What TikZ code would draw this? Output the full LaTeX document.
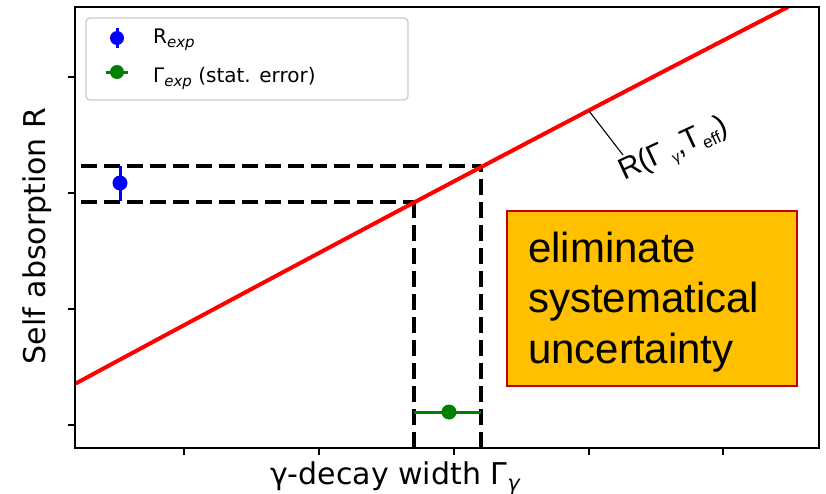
\documentclass[tikz,border=0pt]{standalone}
\usepackage{fontspec}
\setmainfont{DejaVu Sans}
\newfontfamily\arialf{Liberation Sans}
\definecolor{boxfill}{HTML}{FFC000}
\definecolor{boxline}{HTML}{C00000}
\definecolor{mplgreen}{HTML}{008000}
\definecolor{legline}{HTML}{CCCCCC}
\begin{document}
\begin{tikzpicture}[x=1pt,y=-1pt,
  frame/.style={line width=1.6pt},
  tickmark/.style={line width=1.3pt},
  curve/.style={red, line width=4pt},
  guide/.style={line width=3.8pt, dash pattern=on 16pt off 7pt},
  errbar/.style={line width=3pt},
  dotmark/.style={circle, inner sep=0pt, minimum size=15pt},
  bigtext/.style={anchor=base west, font=\arialf\fontsize{42}{50}\selectfont},
  axlabel/.style={font=\fontsize{30}{30}\selectfont},
  legtext/.style={anchor=base west, font=\fontsize{20}{20}\selectfont}]
\useasboundingbox (0,0) rectangle (826,493);
% frame
\coordinate (TL) at (75,7);
\coordinate (BR) at (819,448);
% guides
\coordinate (up0) at (81,166);
\coordinate (up1) at (481,166);
\coordinate (lo0) at (81,202);
\coordinate (lo1) at (414,202);
\coordinate (vb1) at (481,448);
\coordinate (vb0) at (414,448);
\draw[guide] (up0) -- (up1);
\draw[guide] (lo0) -- (lo1);
\draw[guide] (vb0) -- (lo1);
\draw[guide] (vb1) -- (up1);
% curve
\coordinate (c0) at (75.7,383.5);
\coordinate (c1) at (788,7);
\begin{scope}
\clip (TL) rectangle (BR);
\draw[curve] (c0) .. controls (333.9,244.1) and (571.3,118.6) .. (c1);
\end{scope}
% axes frame and ticks
\draw[frame] (TL) rectangle (BR);
\foreach \tx in {184,319,454,589,723} \draw[tickmark] (\tx,448) -- (\tx,455);
\foreach \ty in {77,193,309,425} \draw[tickmark] (75,\ty) -- (68,\ty);
% data points
\coordinate (be0) at (120,166);
\coordinate (be1) at (120,201);
\draw[errbar, blue] (be0) -- (be1);
\node[dotmark, fill=blue] (bpt) at (120,183) {};
\coordinate (ge0) at (414,412);
\coordinate (ge1) at (481,412);
\draw[errbar, mplgreen] (ge0) -- (ge1);
\node[dotmark, fill=mplgreen] (gpt) at (449,412) {};
% annotation of curve
\coordinate (ann0) at (589,111);
\coordinate (ann1) at (623,155);
\draw[line width=1.1pt] (ann0) -- (ann1);
\node[anchor=base west, rotate=25, inner sep=0pt, font=\arialf\fontsize{30}{30}\selectfont] (rlab) at (624,181)
  {R(Γ\,\raisebox{-6pt}{\fontsize{15}{15}\selectfont γ},T\raisebox{-6pt}{\fontsize{17}{17}\selectfont eff})};
% legend
\draw[rounded corners=4pt, draw=legline, line width=1.3pt, fill=white] (86,18) rectangle (408,100);
\draw[errbar, blue] (117,28) -- (117,48);
\node[dotmark, fill=blue, minimum size=14pt] (lb) at (117,38) {};
\draw[errbar, mplgreen] (106,72) -- (128,72);
\node[dotmark, fill=mplgreen, minimum size=14pt] (lg) at (117,72) {};
\node[legtext, inner sep=0pt] (l1) at (153,43) {R\raisebox{-4pt}{\fontsize{15}{15}\selectfont\itshape exp}};
\node[legtext, inner sep=0pt] (l2) at (153,82) {Γ\raisebox{-4pt}{\fontsize{15}{15}\selectfont\itshape exp} (stat. error)};
% orange box
\draw[fill=boxfill, draw=boxline, line width=1.6pt] (507,211) rectangle (797,386);
\node[bigtext, inner sep=0pt] (t1) at (528,262) {eliminate};
\node[bigtext, inner sep=0pt] (t2) at (528,312) {systematical};
\node[bigtext, inner sep=0pt] (t3) at (528,363) {uncertainty};
% axis labels
\node[axlabel, anchor=base west, inner sep=0pt] (xl) at (270,484) {γ-decay width Γ\raisebox{-6pt}{\fontsize{21}{21}\selectfont\itshape γ}};
\node[axlabel, anchor=base, rotate=90, inner sep=0pt] (yl) at (45,236) {Self absorption R};
\end{tikzpicture}
\end{document}
